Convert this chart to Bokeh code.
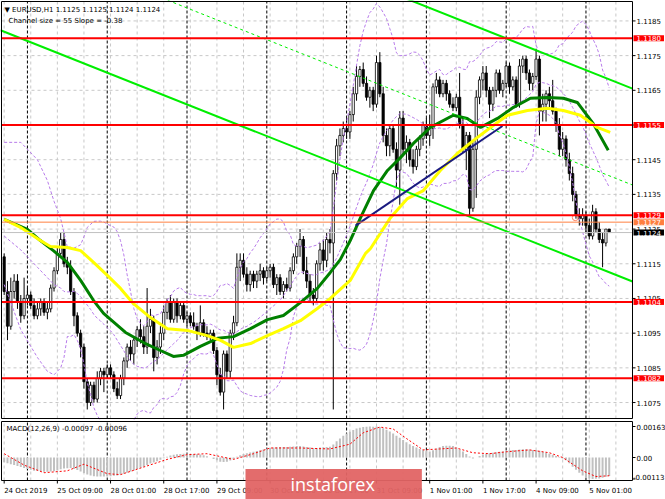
import numpy as np
from bokeh.plotting import figure
from bokeh.models import Range1d, Label, BoxAnnotation
from bokeh.layouts import column
from bokeh.embed import file_html
from bokeh.resources import INLINE

# ---------------- EURUSD H1 candles (bar 0 = 24 Oct 2019 17:00) ----------------
open_ = [
 1.1117,1.1107,1.1097,1.1107,1.1110,1.1104,1.1100,1.1105,1.1106,1.1103,1.1100,1.1102,1.1104,1.1101,1.1102,1.1108,1.1113,1.1118,1.1122,1.1115,1.1114,1.1107,1.1100,1.1095,1.1091,1.1081,1.1075,1.1080,1.1076,1.1082,1.1084,1.1083,1.1085,1.1083,1.1079,1.1077,
 1.1082,1.1087,1.1091,1.1089,1.1093,1.1096,1.1094,1.1091,1.1097,1.1099,1.1088,1.1091,1.1095,1.1101,1.1104,1.1099,1.1104,1.1100,1.1103,1.1099,1.1100,1.1098,1.1097,1.1095,1.1098,1.1095,1.1094,1.1095,1.1090,1.1083,1.1078,1.1089,1.1084,1.1095,1.1098,
 1.1114,1.1116,1.1112,1.1109,1.1112,1.1110,1.1112,1.1113,1.1111,1.1113,1.1114,1.1109,1.1111,1.1107,1.1109,1.1108,1.1113,1.1117,1.1120,1.1122,1.1113,1.1110,1.1106,1.1105,1.1115,1.1119,1.1116,1.1122,1.1121,1.1141,1.1149,1.1152,1.1154,1.1153,1.1158,1.1164,1.1169,1.1171,
 1.1167,1.1163,1.1165,1.1161,1.1173,1.1164,1.1152,1.1149,1.1154,1.1148,1.1142,1.1157,1.1148,1.1150,1.1145,1.1143,1.1148,1.1151,1.1155,
 1.1152,1.1154,1.1166,1.1168,1.1164,1.1167,1.1164,1.1161,1.1160,1.1163,1.1155,1.1148,1.1152,1.1131,1.1148,1.1163,1.1168,1.1170,
 1.1165,1.1161,1.1165,1.1170,1.1165,1.1167,1.1172,1.1166,1.1168,1.1161,1.1172,1.1174,1.1170,1.1167,1.1169,1.1174,1.1159,1.1161,1.1164,1.1162,1.1159,1.1155,1.1148,1.1151,1.1145,1.1141,1.1135,1.1129,1.1128,1.1129,1.1126,1.1123,1.1130,1.1125,1.1122,1.1121,1.1125,
]
high = [
 1.1118,1.1110,1.1111,1.1112,1.1112,1.1106,1.1111,1.1108,1.1107,1.1105,1.1104,1.1105,1.1105,1.1104,1.1109,1.1114,1.1120,1.1124,1.1124,1.1117,1.1116,1.1108,1.1101,1.1096,1.1092,1.1082,1.1081,1.1081,1.1084,1.1085,1.1085,1.1086,1.1086,1.1084,1.1081,1.1083,
 1.1088,1.1092,1.1093,1.1094,1.1097,1.1099,1.1097,1.1108,1.1102,1.1100,1.1093,1.1097,1.1103,1.1105,1.1106,1.1105,1.1105,1.1104,1.1104,1.1101,1.1101,1.1101,1.1098,1.1103,1.1099,1.1097,1.1096,1.1096,1.1091,1.1085,1.1090,1.1090,1.1096,1.1100,1.1118,
 1.1118,1.1118,1.1114,1.1113,1.1113,1.1113,1.1115,1.1114,1.1114,1.1115,1.1115,1.1112,1.1112,1.1110,1.1111,1.1114,1.1118,1.1121,1.1125,1.1123,1.1117,1.1112,1.1108,1.1116,1.1121,1.1122,1.1124,1.1125,1.1142,1.1151,1.1154,1.1156,1.1157,1.1159,1.1166,1.1172,1.1172,1.1173,
 1.1169,1.1166,1.1166,1.1175,1.1176,1.1166,1.1154,1.1155,1.1155,1.1150,1.1159,1.1159,1.1152,1.1151,1.1148,1.1149,1.1152,1.1156,1.1157,
 1.1158,1.1167,1.1170,1.1169,1.1168,1.1168,1.1165,1.1163,1.1164,1.1170,1.1157,1.1153,1.1153,1.1150,1.1165,1.1169,1.1172,1.1172,
 1.1166,1.1166,1.1171,1.1171,1.1168,1.1173,1.1173,1.1169,1.1169,1.1174,1.1175,1.1175,1.1171,1.1170,1.1177,1.1175,1.1164,1.1165,1.1166,1.1168,1.1160,1.1157,1.1153,1.1152,1.1147,1.1143,1.1136,1.1131,1.1131,1.1130,1.1128,1.1132,1.1131,1.1127,1.1124,1.1125,1.1125,
]
low = [
 1.1106,1.1093,1.1096,1.1105,1.1102,1.1098,1.1099,1.1103,1.1102,1.1099,1.1099,1.1100,1.1100,1.1099,1.1101,1.1107,1.1112,1.1117,1.1114,1.1112,1.1106,1.1097,1.1094,1.1088,1.1079,1.1073,1.1074,1.1075,1.1075,1.1080,1.1078,1.1082,1.1082,1.1078,1.1076,1.1076,
 1.1080,1.1085,1.1087,1.1086,1.1091,1.1092,1.1089,1.1089,1.1095,1.1084,1.1086,1.1089,1.1093,1.1099,1.1098,1.1098,1.1098,1.1099,1.1098,1.1097,1.1097,1.1096,1.1093,1.1094,1.1094,1.1093,1.1093,1.1089,1.1080,1.1077,1.1073,1.1082,1.1082,1.1093,1.1097,
 1.1110,1.1111,1.1107,1.1107,1.1108,1.1108,1.1110,1.1109,1.1110,1.1111,1.1108,1.1106,1.1106,1.1105,1.1107,1.1107,1.1112,1.1115,1.1117,1.1112,1.1108,1.1104,1.1103,1.1104,1.1113,1.1113,1.1114,1.1118,1.1073,1.1139,1.1146,1.1150,1.1151,1.1151,1.1156,1.1162,1.1166,1.1166,
 1.1162,1.1160,1.1159,1.1160,1.1163,1.1150,1.1146,1.1146,1.1147,1.1137,1.1132,1.1146,1.1144,1.1143,1.1141,1.1142,1.1146,1.1149,1.1151,
 1.1149,1.1151,1.1164,1.1163,1.1163,1.1162,1.1160,1.1159,1.1159,1.1154,1.1147,1.1142,1.1129,1.1130,1.1134,1.1161,1.1165,1.1163,
 1.1157,1.1159,1.1163,1.1164,1.1163,1.1166,1.1164,1.1165,1.1160,1.1160,1.1170,1.1168,1.1165,1.1165,1.1168,1.1152,1.1156,1.1156,1.1160,1.1158,1.1153,1.1146,1.1146,1.1143,1.1139,1.1133,1.1128,1.1126,1.1126,1.1124,1.1122,1.1122,1.1124,1.1121,1.1114,1.1120,1.1124,
]
close = [
 1.1107,1.1097,1.1107,1.1110,1.1104,1.1100,1.1105,1.1106,1.1103,1.1100,1.1102,1.1104,1.1101,1.1102,1.1108,1.1113,1.1118,1.1122,1.1115,1.1114,1.1107,1.1100,1.1095,1.1091,1.1081,1.1075,1.1080,1.1076,1.1082,1.1084,1.1083,1.1085,1.1083,1.1079,1.1077,1.1082,
 1.1087,1.1091,1.1089,1.1093,1.1096,1.1094,1.1091,1.1097,1.1099,1.1088,1.1091,1.1095,1.1101,1.1104,1.1099,1.1104,1.1100,1.1103,1.1099,1.1100,1.1098,1.1097,1.1095,1.1098,1.1095,1.1094,1.1095,1.1090,1.1083,1.1078,1.1089,1.1084,1.1095,1.1098,1.1114,
 1.1116,1.1112,1.1109,1.1112,1.1110,1.1112,1.1113,1.1111,1.1113,1.1114,1.1109,1.1111,1.1107,1.1109,1.1108,1.1113,1.1117,1.1120,1.1122,1.1113,1.1110,1.1106,1.1105,1.1115,1.1119,1.1116,1.1122,1.1121,1.1141,1.1149,1.1152,1.1154,1.1153,1.1158,1.1164,1.1169,1.1171,1.1167,
 1.1163,1.1165,1.1161,1.1173,1.1164,1.1152,1.1149,1.1154,1.1148,1.1142,1.1157,1.1148,1.1150,1.1145,1.1143,1.1148,1.1151,1.1155,1.1152,
 1.1154,1.1166,1.1168,1.1164,1.1167,1.1164,1.1161,1.1160,1.1163,1.1155,1.1148,1.1152,1.1131,1.1148,1.1163,1.1168,1.1170,1.1165,
 1.1161,1.1165,1.1170,1.1165,1.1167,1.1172,1.1166,1.1168,1.1161,1.1172,1.1174,1.1170,1.1167,1.1169,1.1174,1.1159,1.1161,1.1164,1.1162,1.1159,1.1155,1.1148,1.1151,1.1145,1.1141,1.1135,1.1129,1.1128,1.1129,1.1126,1.1123,1.1130,1.1125,1.1122,1.1121,1.1125,1.1124,
]

# moving averages (bar index, price)
green_ma_x = [0, 7, 10.9, 14.8, 19, 23, 26.9, 29.9, 36.5, 41.9, 47, 50.9, 53.9, 59, 64.2, 69, 74.1, 79.2, 84, 89.1, 94.2, 98.1, 101.1, 104.1, 107.2, 111.1, 115.3, 119.2, 123.1, 128.2, 135.1, 139.3, 143.3, 148.4, 153.2, 158.3, 163.4, 168.2, 172.4, 177.2, 181.7]
green_ma_y = [1.11278, 1.11249, 1.11217, 1.11188, 1.11154, 1.11102, 1.11044, 1.11007, 1.10952, 1.10923, 1.10900, 1.10883, 1.10886, 1.10912, 1.10935, 1.10940, 1.10963, 1.10989, 1.11001, 1.11038, 1.11079, 1.11125, 1.11162, 1.11217, 1.11283, 1.11361, 1.11419, 1.11456, 1.11497, 1.11543, 1.11578, 1.11569, 1.11543, 1.11569, 1.11601, 1.11627, 1.11629, 1.11627, 1.11615, 1.11554, 1.11477]
yellow_ma_x = [0, 4.9, 10.9, 13.9, 19, 23, 26.9, 31.1, 35, 38.9, 44, 49.1, 55.1, 61.1, 65.1, 69, 74.1, 79.2, 84, 89.1, 94.2, 98.1, 104.1, 108.7, 110.2, 116.2, 121.3, 126.1, 131.2, 136.3, 141.1, 146.3, 151.4, 157.4, 163.4, 168.2, 173.3, 178.4, 182.3]
yellow_ma_y = [1.11278, 1.11255, 1.11217, 1.11200, 1.11197, 1.11188, 1.11154, 1.11116, 1.11079, 1.11035, 1.10995, 1.10963, 1.10958, 1.10943, 1.10929, 1.10909, 1.10920, 1.10943, 1.10963, 1.10986, 1.11021, 1.11050, 1.11102, 1.11180, 1.11194, 1.11283, 1.11338, 1.11361, 1.11419, 1.11468, 1.11505, 1.11543, 1.11578, 1.11592, 1.11598, 1.11592, 1.11578, 1.11543, 1.11529]

# Bollinger Bands (20, 2): first bars (before a full 20-bar window exists)
bb_period = 20
bb_early_x = [0, 5, 10, 13, 15, 17, 18]
bb_early_upper = [1.1150, 1.1150, 1.1145, 1.1139, 1.1133, 1.1128, 1.1124]
bb_early_mid = [1.1123, 1.1119, 1.1114, 1.1111, 1.1109, 1.1108, 1.1107]
bb_early_lower = [1.1109, 1.1096, 1.1088, 1.1084, 1.1083, 1.1085, 1.1088]

# drawn objects
red_levels = [1.1180, 1.1155, 1.1129, 1.1104, 1.1082]
orange_level = 1.1127
bid_level = 1.1124
channel_x = [-1.1, 189.0]
channel_lower = [1.11823, 1.11099]
channel_mid = [1.12101, 1.11377]
channel_upper = [1.12379, 1.11655]
trend_x = [105.7, 149.9]
trend_y = [1.11260, 1.11547]
alert_x = [171.8]
alert_y = [1.11283]

price_ticks = [1.1075, 1.1085, 1.1095, 1.1105, 1.1115, 1.1125, 1.1135, 1.1145, 1.1155, 1.1165, 1.1175, 1.1185]
time_ticks = [0, 16, 32, 48, 64, 80, 96, 112, 128, 144, 160, 176]
time_labels = ["24 Oct 2019", "25 Oct 09:00", "28 Oct 01:00", "28 Oct 17:00", "29 Oct 09:00", "30 Oct 01:00",
               "30 Oct 17:00", "31 Oct 09:00", "1 Nov 01:00", "1 Nov 17:00", "4 Nov 09:00", "5 Nov 01:00"]
day_starts = [7, 31, 55, 79, 103, 127, 151, 175]
grid_bars = list(range(0, 190, 8))

# MACD(12,26,9)
macd_hist = [
 -0.00025,-0.0003,-0.00035,-0.0004,-0.00045,-0.0005,-0.00055,-0.0006,-0.00065,-0.0007,
 -0.0007,-0.00072,-0.00075,-0.00075,-0.00074,-0.00072,-0.00068,-0.00062,-0.00058,-0.00056,
 -0.00055,-0.0006,-0.00066,-0.00074,-0.00082,-0.0009,-0.00095,-0.00098,-0.001,-0.001,
 -0.001,-0.001,-0.00098,-0.00096,-0.00094,-0.0009,-0.00085,-0.0008,-0.00074,-0.00068,
 -0.0006,-0.00054,-0.00048,-0.0004,-0.00032,-0.00026,-0.0002,-0.00012,-0.00004,0.00004,
 0.0001,0.00014,0.00017,0.00019,0.0002,0.0002,0.00019,0.00018,0.00017,0.00016,
 0.00012,0.00006,0.0,-0.00008,-0.00015,-0.00022,-0.00024,-0.00022,-0.00016,-0.00008,
 0.00004,0.00012,0.00018,0.00022,0.00026,0.0003,0.00034,0.00038,0.00042,0.00046,
 0.0005,0.00052,0.00054,0.00055,0.00055,0.00055,0.00056,0.00058,0.0006,0.0006,
 0.00058,0.00055,0.00052,0.0005,0.0005,0.00052,0.00054,0.00055,0.00056,0.00068,
 0.00085,0.001,0.00115,0.00126,0.00136,0.00145,0.00152,0.00157,0.0016,0.00162,
 0.00163,0.00162,0.00163,0.0016,0.00154,0.00146,0.00137,0.00126,0.00115,0.00104,
 0.00092,0.0008,0.0007,0.0006,0.00052,0.00045,0.0004,0.00035,0.00032,0.00038,
 0.00048,0.00055,0.0006,0.00062,0.00062,0.0006,0.00052,0.00042,0.00032,0.00018,
 0.00005,-0.00005,0.0,0.00008,0.00015,0.0002,0.00022,0.00025,0.00028,0.0003,
 0.00032,0.00036,0.00038,0.0004,0.0004,0.00042,0.00044,0.00044,0.00042,0.0004,
 0.0004,0.00036,0.0003,0.00025,0.0002,0.00014,0.00008,0.00002,-0.00005,-0.00015,
 -0.0003,-0.00048,-0.00065,-0.0008,-0.00095,-0.00105,-0.0011,-0.00113,-0.00112,-0.0011,
 -0.00106,-0.00101,-0.00097,
]
signal_x = [0, 6, 12, 19, 24, 31, 35, 42, 49, 55, 61, 69, 75, 80, 89, 98, 104, 108, 113, 117, 121, 126, 131, 136, 141, 146, 151, 158, 164, 168, 174, 178, 182]
signal_y = [0.0002, -0.0004, -0.0008, -0.0007, -0.00035, -0.00085, -0.0009, -0.0005, -0.0001, 0.00015, 0.0002, -0.0001, 0.0002, 0.0005, 0.0005, 0.00045, 0.0007, 0.0013, 0.0016, 0.0015, 0.001, 0.0004, 0.00045, 0.0005, 0.00025, 0.0002, 0.0003, 0.0004, 0.00025, 0.0, -0.0007, -0.001, -0.00096]
macd_ticks = [0.00163, 0.0, -0.00113]
macd_tick_labels = ["0.00163", "0.00", "-0.00113"]

# ---------------- geometry (canvas pixels) ----------------
W = 665
MAIN_H, MACD_H = 420, 79
PX_L, PX_R = 1, 632            # chart area left/right edge
CH_X0, CH_X1 = -0.8, 189.0      # bar range shown in chart area
bpp = (CH_X1 - CH_X0) / (PX_R - PX_L)
XR = Range1d(CH_X0 - PX_L * bpp, CH_X1 + (W - PX_R) * bpp)

P_TOP, P_BOT = 1.11906, 1.10704  # price at chart top row 1 / bottom row 418
ppp = (P_TOP - P_BOT) / 417.0
M_TOP, M_BOT = 0.001893, -0.001209  # MACD at panel rows 1 / 60
mpp = (M_TOP - M_BOT) / 59.0

FONT = "DejaVu Sans"
FS = "7px"
GRID_C = "#C8C8C8"

def make_fig(h, ys, ye):
    f = figure(width=W, height=h, x_range=XR, y_range=Range1d(ys, ye),
               x_axis_location=None, y_axis_location=None, output_backend="svg", toolbar_location=None,
               min_border_left=0, min_border_right=0, min_border_top=0, min_border_bottom=0)
    f.grid.visible = False
    f.outline_line_color = None
    f.background_fill_color = "white"
    f.border_fill_color = "white"
    return f

def txt(fig, x, y, t, xu="screen", yu="screen", **kw):
    args = dict(text_font=FONT, text_font_size=FS, text_color="black", text_baseline="middle", text_align="left")
    args.update(kw)
    fig.add_layout(Label(x=x, y=y, x_units=xu, y_units=yu, text=t, **args))

n = min(len(open_), len(high), len(low), len(close))
o = np.array(open_[:n]); h = np.array(high[:n]); l = np.array(low[:n]); c = np.array(close[:n])
idx = np.arange(n)
up = c >= o

# Bollinger bands from the close series (population std, as in MetaTrader)
bb_x = list(bb_early_x)
bb_u = list(bb_early_upper)
bb_m = list(bb_early_mid)
bb_l = list(bb_early_lower)
for i in range(bb_period - 1, n):
    win = c[i - bb_period + 1:i + 1]
    mu, sd = win.mean(), win.std()
    bb_x.append(i); bb_m.append(mu); bb_u.append(mu + 2 * sd); bb_l.append(mu - 2 * sd)

# ---------------- main chart ----------------
p = make_fig(MAIN_H, P_BOT - (MAIN_H - 418) * ppp, P_TOP + 1 * ppp)

# grid
p.segment(x0=[CH_X0] * len(price_ticks), x1=[CH_X1] * len(price_ticks), y0=price_ticks, y1=price_ticks,
          line_color=GRID_C, line_dash="3 3", line_width=1)
p.segment(x0=grid_bars, x1=grid_bars, y0=[P_BOT] * len(grid_bars), y1=[P_TOP] * len(grid_bars),
          line_color=GRID_C, line_dash="3 3", line_width=1)
p.segment(x0=day_starts, x1=day_starts, y0=[P_BOT] * len(day_starts), y1=[P_TOP] * len(day_starts),
          line_color="black", line_dash="3 2", line_width=1)

# candles
p.segment(x0=idx, y0=l, x1=idx, y1=h, line_color="black", line_width=1)
p.vbar(x=idx[up], top=c[up], bottom=o[up], width=0.68, fill_color="white", line_color="black", line_width=0.8)
p.vbar(x=idx[~up], top=o[~up], bottom=c[~up], width=0.68, fill_color="black", line_color="black", line_width=0.8)

# bollinger bands
for band in (bb_u, bb_m, bb_l):
    p.line(bb_x, band, line_color="#B77BEA", line_width=1, line_dash="3 2")

# moving averages
p.line(green_ma_x, green_ma_y, line_color="#008000", line_width=3)
p.line(yellow_ma_x, yellow_ma_y, line_color="#FFFF00", line_width=3)

# objects
p.line(channel_x, channel_lower, line_color="#00EE00", line_width=2)
p.line(channel_x, channel_upper, line_color="#00EE00", line_width=2)
p.line(channel_x, channel_mid, line_color="#00EE00", line_width=1, line_dash="3 3")
p.line(trend_x, trend_y, line_color="#1A1A80", line_width=2)
p.scatter(alert_x, alert_y, size=6, marker="circle", fill_color=None, line_color="#FF8060")
p.segment(x0=[CH_X0], x1=[CH_X1], y0=[bid_level], y1=[bid_level], line_color="#C0C0C0", line_width=1)
p.segment(x0=[CH_X0], x1=[CH_X1], y0=[orange_level], y1=[orange_level], line_color="#FF8040", line_width=1)
p.segment(x0=[CH_X0] * len(red_levels), x1=[CH_X1] * len(red_levels), y0=red_levels, y1=red_levels,
          line_color="#FF0000", line_width=2)

# frame + right axis ticks
p.add_layout(BoxAnnotation(left=CH_X0, right=CH_X1, bottom=P_BOT, top=P_TOP, fill_alpha=0,
                           line_color="black", line_width=1, line_alpha=1))
p.segment(x0=[CH_X1] * len(price_ticks), x1=[CH_X1 + 3 * bpp] * len(price_ticks), y0=price_ticks, y1=price_ticks,
          line_color="black", line_width=1)
for t in price_ticks:
    txt(p, PX_R + 4, t, f"{t:.4f}", yu="data")

def price_box(lv, bg):
    txt(p, PX_R + 1, lv, f"{lv:.4f}", yu="data", text_color="white",
        background_fill_color=bg, padding=(3, 3, 0, 0))

for lv in red_levels:
    price_box(lv, "#FF0000")
price_box(orange_level, "#FF7F3F")
price_box(bid_level, "#000000")

txt(p, 4, MAIN_H - 9, "\u25BC EURUSD,H1  1.1125 1.1125 1.1124 1.1124")
txt(p, 8, MAIN_H - 20, "Channel size = 55 Slope = -0.38")

# ---------------- MACD panel ----------------
m = make_fig(MACD_H, M_BOT - (MACD_H - 60) * mpp, M_TOP + 1 * mpp)
m.segment(x0=grid_bars, x1=grid_bars, y0=[M_BOT] * len(grid_bars), y1=[M_TOP] * len(grid_bars),
          line_color=GRID_C, line_dash="3 3", line_width=1)
m.segment(x0=day_starts, x1=day_starts, y0=[M_BOT] * len(day_starts), y1=[M_TOP] * len(day_starts),
          line_color="black", line_dash="3 2", line_width=1)

hn = min(len(macd_hist), n)
m.vbar(x=idx[:hn], top=macd_hist[:hn], bottom=0, width=0.6, fill_color="#C0C0C0", line_color=None)
m.line(signal_x, signal_y, line_color="#FF0000", line_width=1, line_dash="2 2")

m.add_layout(BoxAnnotation(left=CH_X0, right=CH_X1, bottom=M_BOT, top=M_TOP, fill_alpha=0,
                           line_color="black", line_width=1, line_alpha=1))
m.segment(x0=[CH_X1] * len(macd_ticks), x1=[CH_X1 + 3 * bpp] * len(macd_ticks), y0=macd_ticks, y1=macd_ticks,
          line_color="black", line_width=1)
m.segment(x0=time_ticks, x1=time_ticks, y0=[M_BOT] * len(time_ticks), y1=[M_BOT - 3 * mpp] * len(time_ticks),
          line_color="black", line_width=1)

txt(m, 6, MACD_H - 8, "MACD(12,26,9) -0.00097 -0.00096")
for v, t in zip(macd_ticks, macd_tick_labels):
    if t.startswith("-"):
        txt(m, W - 1, v + 2 * mpp, t, yu="data", text_align="right")
    else:
        txt(m, PX_R + 4, v, t, yu="data")
for b, t in zip(time_ticks, time_labels):
    txt(m, b, 9, t, xu="data")

# watermark logo
m.add_layout(Label(x=245, y=15.5, x_units="screen", y_units="screen", text="instaforex",
                   text_font="Open Sans", text_font_size="18px", text_color="white", text_baseline="middle",
                   text_align="left", background_fill_color="#E26464", background_fill_alpha=0.95,
                   padding=(45, 47, 3, 3)))

layout = column(p, m, spacing=0)
open("out.html", "w").write(file_html(layout, INLINE))
